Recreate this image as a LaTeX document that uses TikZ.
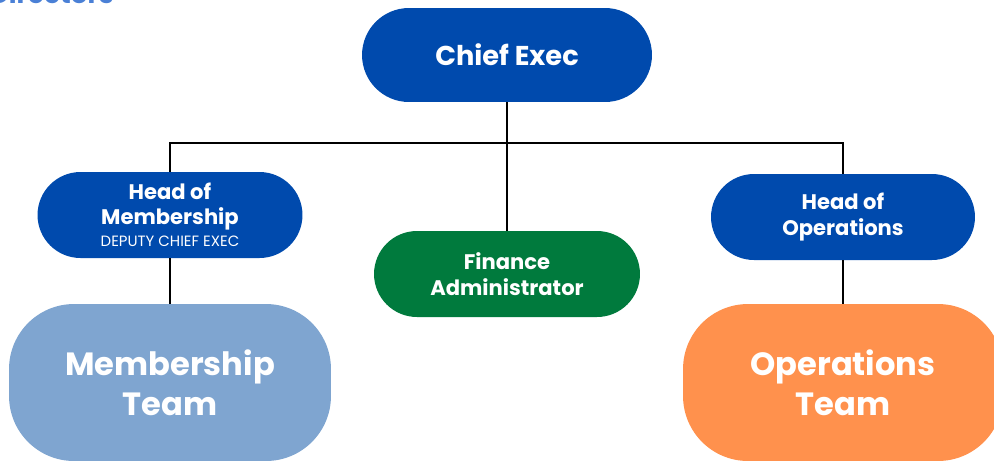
\documentclass[tikz,border=0pt]{standalone}
\usepackage{fontspec}
\setmainfont{Poppins}
\definecolor{azul}{RGB}{0,74,173}
\definecolor{azulclaro}{RGB}{127,165,208}
\definecolor{verde}{RGB}{0,122,61}
\definecolor{naranja}{RGB}{255,145,77}
\definecolor{titulo}{RGB}{74,128,214}
\begin{document}
\begin{tikzpicture}[x=0.02cm, y=-0.02cm,
    caja/.style={fill=#1, text=white, inner sep=0pt, align=center},
    cabeza/.style={caja=#1, minimum width=5.3cm, minimum height=1.72cm,
        rounded corners=0.86cm, font=\bfseries\fontsize{12}{14.5}\selectfont},
    equipo/.style={caja=#1, minimum width=6.44cm, minimum height=3.14cm,
        rounded corners=1.3cm, font=\bfseries\fontsize{18.3}{23}\selectfont},
    linea/.style={draw=black, line width=0.85pt}]
    \useasboundingbox (0,0) rectangle (994,461);

    % titulo cortado arriba
    \node[anchor=base east, inner sep=0pt, text=titulo,
        font=\bfseries\fontsize{15}{18}\selectfont] (tit) at (114,3.5) {Directors};

    \node[caja=azul, minimum width=5.8cm, minimum height=1.88cm,
        rounded corners=0.94cm, font=\bfseries\fontsize{15.5}{18}\selectfont]
        (chief) at (507,55) {Chief Exec};

    \node[cabeza=azul] (hm) at (170,215)
        {Head of\\Membership\\[-2pt]{\mdseries\fontsize{8.5}{10}\selectfont DEPUTY CHIEF EXEC}};
    \node[cabeza=verde, minimum width=5.32cm] (fin) at (507,274)
        {Finance\\Administrator};
    \node[cabeza=azul, minimum width=5.28cm] (ho) at (843,217)
        {Head of\\Operations};

    \node[equipo=azulclaro] (mt) at (170,382.5) {Membership\\Team};
    \node[equipo=naranja, minimum width=6.4cm] (ot) at (843,382.5) {Operations\\Team};

    % conectores
    \coordinate (bar) at (507,143);
    \draw[linea] (chief.south) -- (fin.north);
    \draw[linea] (hm.north) |- (bar) -| (ho.north);
    \draw[linea] (hm.south) -- (mt.north);
    \draw[linea] (ho.south) -- (ot.north);
\end{tikzpicture}
\end{document}
